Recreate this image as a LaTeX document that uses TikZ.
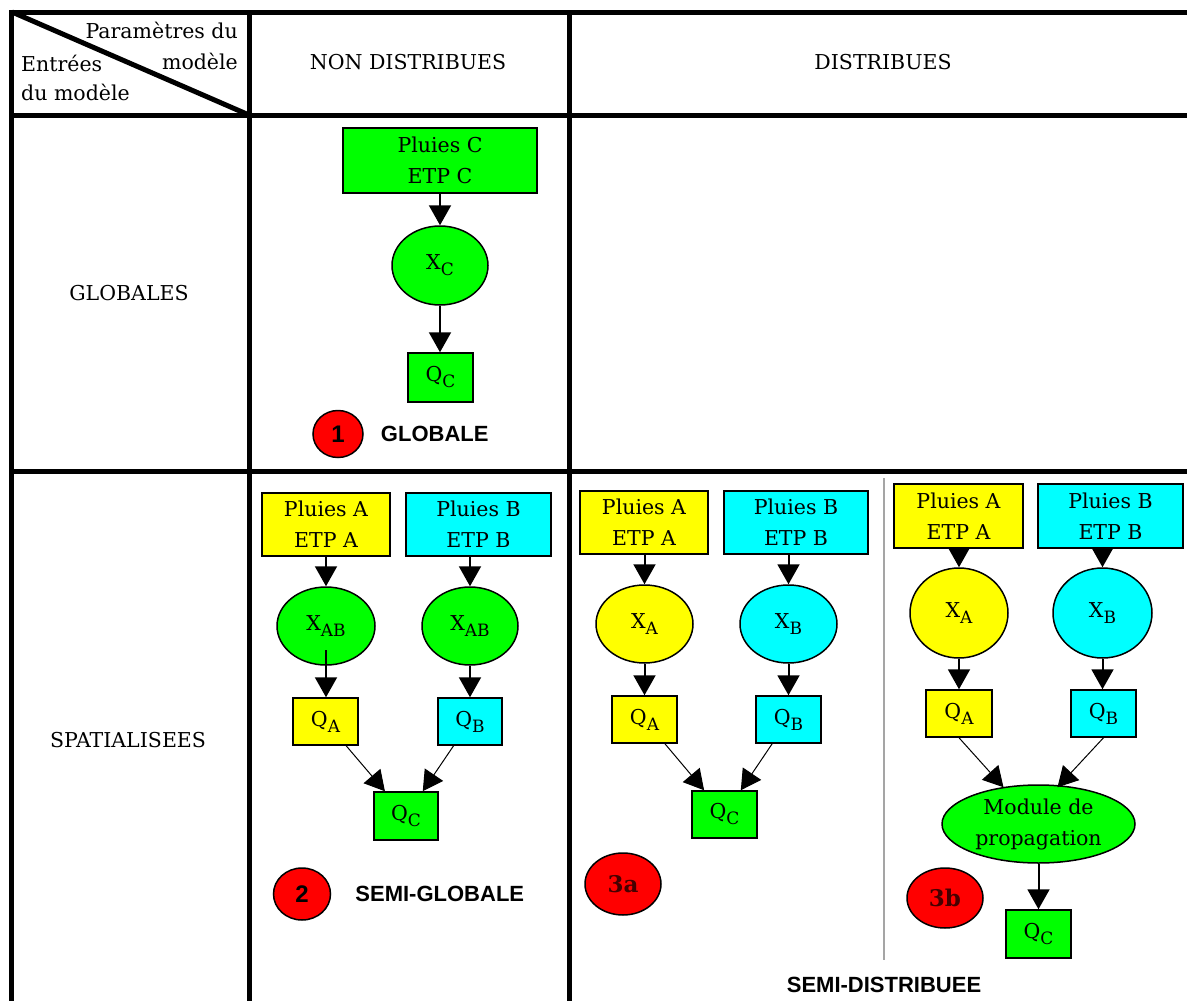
\documentclass[tikz,border=0pt]{standalone}
\usepackage{fontspec}
\setmainfont{DejaVu Serif}
\setsansfont{Liberation Sans}
\usepackage{xcolor}
\usetikzlibrary{arrows.meta}
\usetikzlibrary{shapes,calc,positioning}
\definecolor{vertC}{RGB}{0,255,0}
\definecolor{jauneA}{RGB}{255,255,0}
\definecolor{cyanB}{RGB}{0,255,255}
\definecolor{rougeP}{RGB}{255,0,0}
\definecolor{rougeF}{RGB}{70,0,0}
\definecolor{grisT}{RGB}{165,165,165}
\newcommand{\indice}[1]{\raisebox{-6pt}{\fontsize{17}{17}\selectfont #1}}

\begin{document}
\begin{tikzpicture}[
	x=1pt, y=-1pt,
	every node/.style = {font=\fontsize{20.5}{31}\selectfont, align=center, inner sep=0pt},
	taille/.style 2 args = {minimum width=#1pt, minimum height=#2pt},
	boite/.style = {draw, rectangle, line width=1.5pt},
	bulle/.style = {draw, ellipse, line width=1.5pt},
	pastille/.style = {draw, ellipse, fill=rougeP, line width=1.5pt},
	chiffre/.style = {font=\fontsize{24}{26}\sffamily\bfseries\selectfont},
	numero/.style = {font=\fontsize{23}{26}\bfseries\selectfont, text=rougeF},
	titre/.style = {font=\fontsize{22}{26}\sffamily\bfseries\selectfont},
	trait/.style = {line width=5pt},
	fleche/.style = {-{Triangle[length=20pt,width=22pt]}, line width=2pt},
	flechefine/.style = {-{Triangle[length=20pt,width=22pt]}, line width=1pt}
]
\useasboundingbox (0,0) rectangle (1187,1001);
\fill[white] (0,0) rectangle (1187,1001);

% grille du tableau
\draw[trait] (10,12) -- (1187,12);
\draw[trait] (10,115) -- (1187,115);
\draw[trait] (10,471) -- (1187,471);
\draw[trait] (11.5,10) -- (11.5,1001);
\draw[trait] (249,10) -- (249,1001);
\draw[trait] (569,10) -- (569,1001);
\draw[trait] (12,12) -- (249,115);
\draw[grisT, line width=1.5pt] (884,478) -- (884,960);

% en-tetes
\node[anchor=east] (hdrP) at (238,30) {Paramètres du};
\node[anchor=west] (hdrE) at (21,63) {Entrées};
\node[anchor=east] (hdrM) at (238,61) {modèle};
\node[anchor=west] (hdrD) at (21,92) {du modèle};
\node (colN) at (408,62) {NON DISTRIBUES};
\node (colD) at (883,62) {DISTRIBUES};
\node (rowG) at (129,293) {GLOBALES};
\node (rowS) at (128,740) {SPATIALISEES};

% 1 : globale
\node[boite, fill=vertC, taille={194}{65}] (pc) at (440,160.5) {Pluies C\\ETP C};
\node[bulle, fill=vertC, taille={96}{79}] (xc) at (440,265.5) {X\indice{C}};
\node[boite, fill=vertC, taille={65}{49}] (qc1) at (440.5,377.5) {Q\indice{C}};
\node[pastille, chiffre, taille={50}{47}] (p1) at (338,434) {1};
\node[titre, right=17pt of p1] (l1) {GLOBALE};

% 2 : semi-globale
\node[boite, fill=jauneA, taille={128}{63}] (pa2) at (326,524.5) {Pluies A\\ETP A};
\node[boite, fill=cyanB, taille={145}{63}] (pb2) at (478.5,524.5) {Pluies B\\ETP B};
\node[bulle, fill=vertC, taille={98}{78}] (xa2) at (326,626) {X\indice{AB}};
\node[bulle, fill=vertC, taille={96}{78}] (xb2) at (470,626) {X\indice{AB}};
\node[boite, fill=jauneA, taille={65}{47}] (qa2) at (325.5,721.5) {Q\indice{A}};
\node[boite, fill=cyanB, taille={64}{47}] (qb2) at (470,721.5) {Q\indice{B}};
\node[boite, fill=vertC, taille={64}{48}] (qc2) at (406,816) {Q\indice{C}};
\node[pastille, chiffre, taille={57}{52}] (p2) at (302,894) {2};
\node[titre, right=24pt of p2] (l2) {SEMI-GLOBALE};

% 3a : semi-distribuee
\node[boite, fill=jauneA, taille={128}{63}] (pa3) at (644,522.5) {Pluies A\\ETP A};
\node[boite, fill=cyanB, taille={144}{63}] (pb3) at (796,522.5) {Pluies B\\ETP B};
\node[bulle, fill=jauneA, taille={97}{78}] (xa3) at (644.5,624) {X\indice{A}};
\node[bulle, fill=cyanB, taille={97}{78}] (xb3) at (788.5,624) {X\indice{B}};
\node[boite, fill=jauneA, taille={65}{47}] (qa3) at (644.5,719.5) {Q\indice{A}};
\node[boite, fill=cyanB, taille={65}{47}] (qb3) at (788.5,719.5) {Q\indice{B}};
\node[boite, fill=vertC, taille={65}{47}] (qc3) at (724.5,814.5) {Q\indice{C}};
\node[pastille, numero, taille={76}{62}] (p3a) at (623,884) {3a};

% 3b : avec module de propagation
\node[boite, fill=jauneA, taille={129}{64}] (pa4) at (958.5,516) {Pluies A\\ETP A};
\node[boite, fill=cyanB, taille={145}{64}] (pb4) at (1110.5,516) {Pluies B\\ETP B};
\node[bulle, fill=jauneA, taille={98}{90}] (xa4) at (959,613) {X\indice{A}};
\node[bulle, fill=cyanB, taille={99}{90}] (xb4) at (1102.5,613) {X\indice{B}};
\node[boite, fill=jauneA, taille={66}{47}] (qa4) at (959,713.5) {Q\indice{A}};
\node[boite, fill=cyanB, taille={65}{47}] (qb4) at (1103.5,713.5) {Q\indice{B}};
\node[bulle, fill=vertC, taille={193}{78}] (mod) at (1038.5,824) {Module de\\propagation};
\node[boite, fill=vertC, taille={65}{48}] (qc4) at (1038.5,934) {Q\indice{C}};
\node[pastille, numero, taille={76}{60}] (p3b) at (945,898) {3b};
\node[titre] (l3) at (884,985) {SEMI-DISTRIBUEE};

% fleches
\draw[fleche] (pc.south) -- (xc.north);
\draw[fleche] (xc.south) -- (xc.south |- qc1.north);

\draw[fleche] (pa2.south) -- (xa2.north);
\draw[fleche] (pb2.south -| xb2) -- (xb2.north);
\draw[fleche] ([yshift=-24pt]xa2.center) -- (xa2.center |- qa2.north);
\draw[fleche] (xb2.south) -- (qb2.north);
\draw[flechefine] (qa2) -- (qc2);
\draw[flechefine] (qb2) -- (qc2);

\draw[fleche] (pa3.south -| xa3) -- (xa3.north);
\draw[fleche] (pb3.south -| xb3) -- (xb3.north);
\draw[fleche] (xa3.south) -- (qa3.north);
\draw[fleche] (xb3.south) -- (qb3.north);
\draw[flechefine] (qa3) -- (qc3);
\draw[flechefine] (qb3) -- (qc3);

\draw[fleche] (pa4.south -| xa4) -- (xa4.north);
\draw[fleche] (pb4.south -| xb4) -- (xb4.north);
\draw[fleche] (xa4.south) -- (qa4.north);
\draw[fleche] (xb4.south) -- (xb4.south |- qb4.north);
\draw[flechefine] (qa4.south) -- ([shift={(-35,3)}]mod.north);
\draw[flechefine] (qb4.south) -- ([shift={(19,3)}]mod.north);
\draw[fleche] (mod.south) -- (qc4.north);
\end{tikzpicture}
\end{document}
